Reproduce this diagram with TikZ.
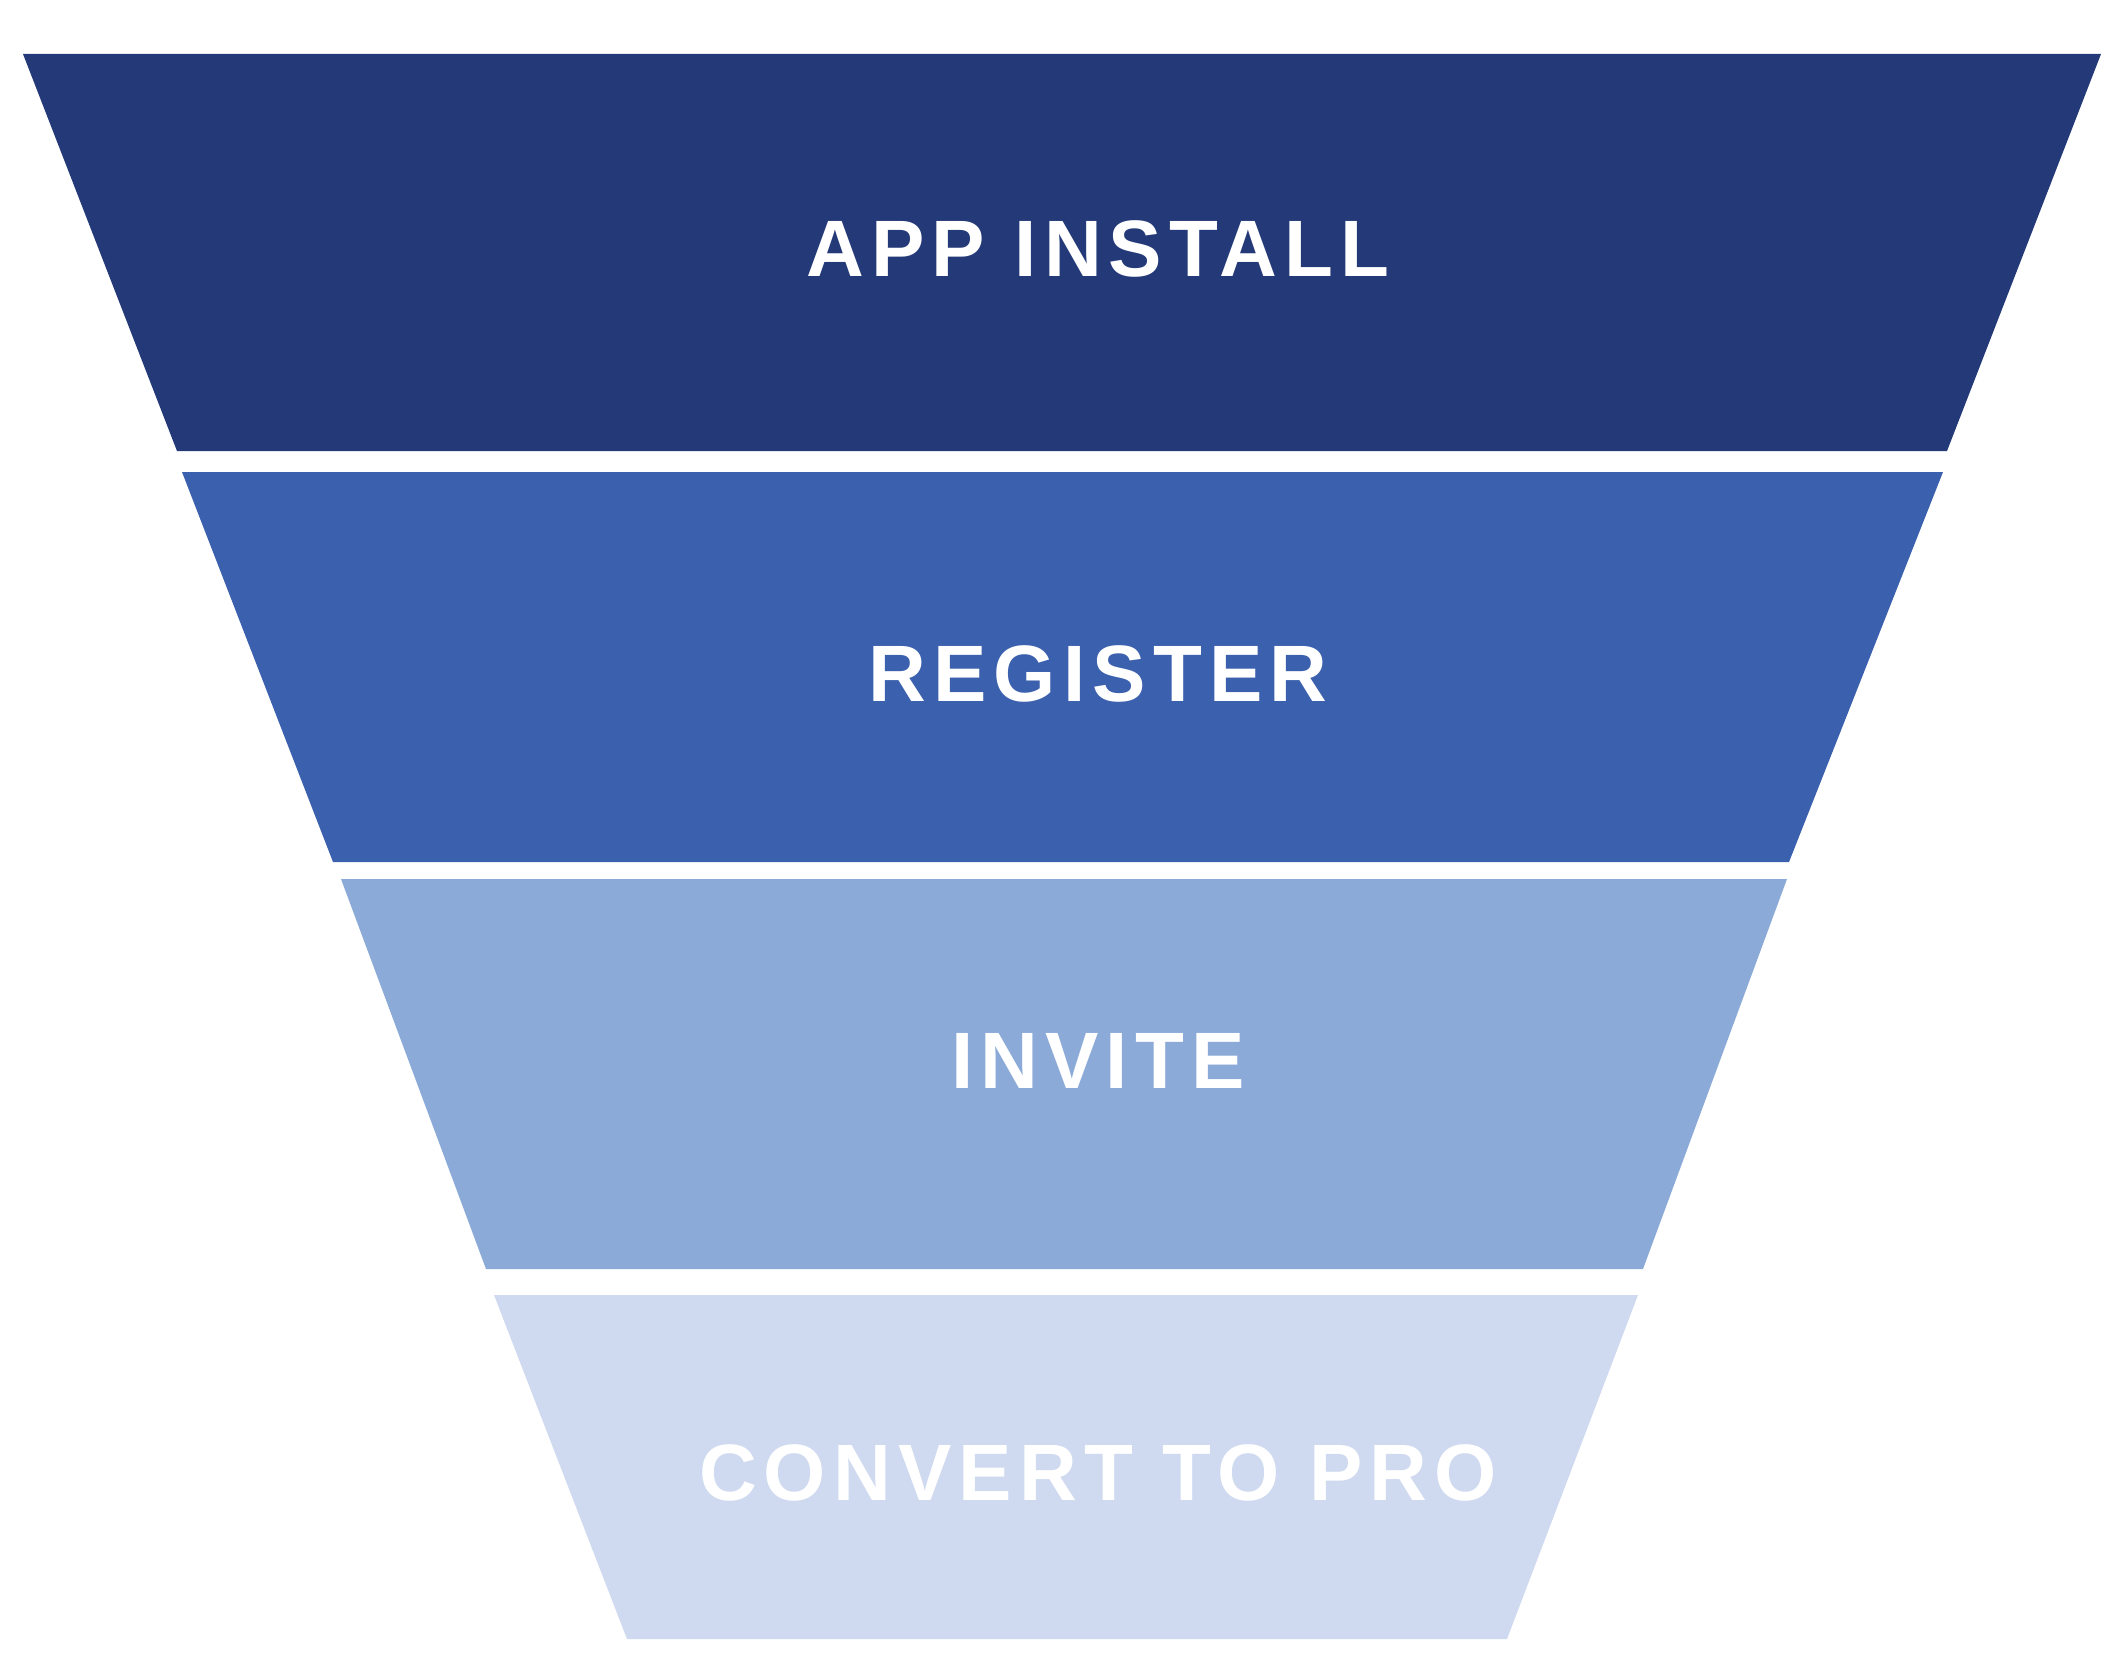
\documentclass[tikz,border=0pt]{standalone}
\usepackage{fontspec}
\setmainfont{Liberation Sans}
\newfontfamily\labelfont[LetterSpace=9]{Liberation Sans Bold}
\definecolor{cA}{HTML}{243A78}
\definecolor{cB}{HTML}{3B60AD}
\definecolor{cC}{HTML}{8BAAD8}
\definecolor{cD}{HTML}{CFDAF0}
\tikzset{
  lbl/.style={text=white, anchor=base, inner sep=0pt, font=\labelfont\fontsize{80}{84}\selectfont}
}
\begin{document}
\begin{tikzpicture}[x=1pt,y=-1pt]
\useasboundingbox[fill=white] (0,0) rectangle (2128,1653);
\fill[cA] (23,54) -- (2101,54) -- (1947,451) -- (177,451) -- cycle;
\fill[cB] (182,472) -- (1943,472) -- (1789,862) -- (333,862) -- cycle;
\fill[cC] (341,879) -- (1787,879) -- (1643,1269) -- (486,1269) -- cycle;
\fill[cD] (494,1295) -- (1638,1295) -- (1507,1639) -- (627,1639) -- cycle;
\node[lbl] (install) at (1098,277) {APP INSTALL};
\node[lbl] (register) at (1098,701) {REGISTER};
\node[lbl] (invite) at (1098,1088) {INVITE};
\node[lbl] (convert) at (1098,1500) {CONVERT TO PRO};
\end{tikzpicture}
\end{document}
